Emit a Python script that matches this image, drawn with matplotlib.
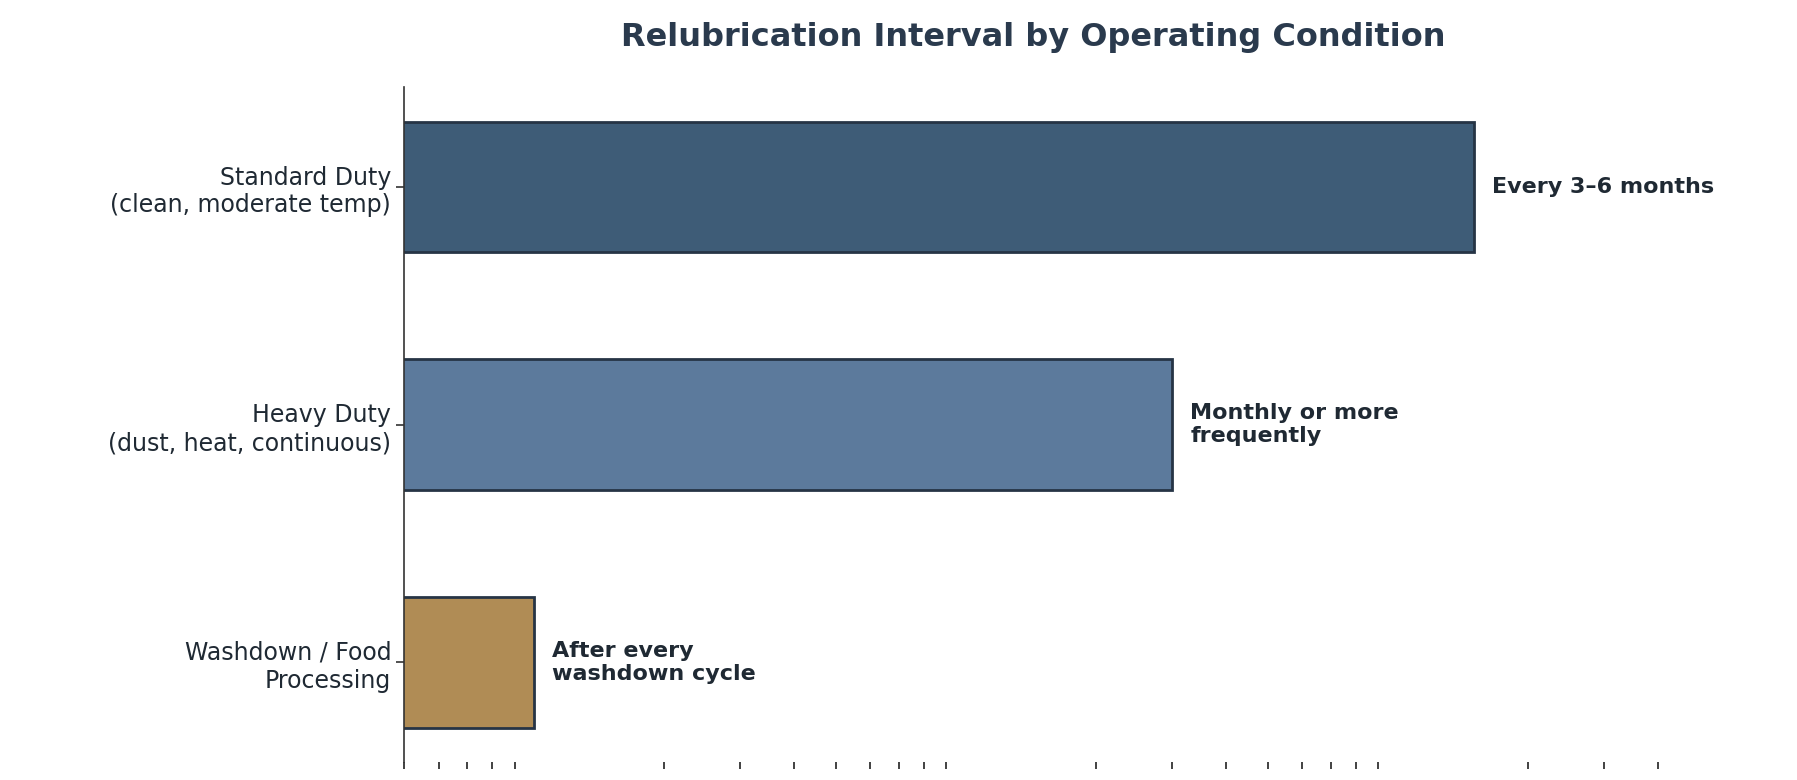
import matplotlib.pyplot as plt
from matplotlib.ticker import LogLocator, NullFormatter, NullLocator

categories = [
    "Standard Duty\n(clean, moderate temp)",
    "Heavy Duty\n(dust, heat, continuous)",
    "Washdown / Food\nProcessing",
]
interval_days = [150, 30, 1]
labels = ["Every 3\u20136 months", "Monthly or more\nfrequently", "After every\nwashdown cycle"]
colors = ["#3e5c77", "#5c7a9c", "#b08c55"]

fig = plt.figure(figsize=(17.97, 7.8), dpi=100)
ax = fig.add_axes([0.225, 0.023, 0.71, 0.865])

y = list(range(len(categories)))[::-1]
ax.barh(y, interval_days, height=0.55, color=colors, edgecolor="#263445", linewidth=2)
ax.set_xscale("log")
ax.set_xlim(0.5, 450)
ax.set_ylim(-0.42, 2.42)
ax.xaxis.set_major_locator(NullLocator())
ax.xaxis.set_minor_locator(LogLocator(base=10, subs=range(2, 10)))
ax.xaxis.set_minor_formatter(NullFormatter())
ax.tick_params(axis="x", which="minor", length=5, width=1.3, color="#333333")
ax.set_yticks(y)
ax.set_yticklabels(categories, fontsize=17, color="#1f2933")
ax.tick_params(axis="y", length=6, width=1.2, color="#333333")

for yi, v, lab in zip(y, interval_days, labels):
    ax.text(v * 1.1, yi, lab, va="center", ha="left", fontsize=16,
            fontweight="bold", color="#1f2933")

for s in ["top", "right", "bottom"]:
    ax.spines[s].set_visible(False)
ax.spines["left"].set_color("#333333")
ax.spines["left"].set_linewidth(1.2)

fig.text(0.575, 0.952, "Relubrication Interval by Operating Condition", ha="center",
         va="center", fontsize=23, fontweight="bold", color="#2a3a4d")
fig.savefig("out.png", dpi=100)
